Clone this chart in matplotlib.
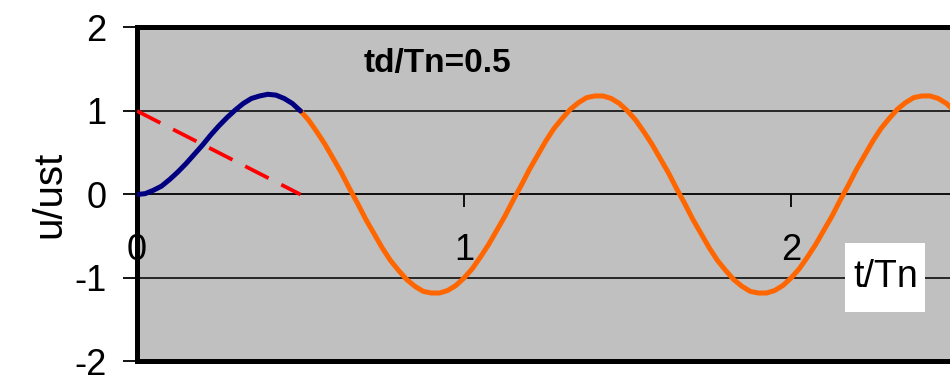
import matplotlib.pyplot as plt

# response during the pulse (t/Tn <= 0.5)
t_force = [0.0, 0.025, 0.05, 0.075, 0.10, 0.125, 0.15, 0.175, 0.20, 0.225,
           0.25, 0.275, 0.30, 0.325, 0.35, 0.375, 0.40, 0.425, 0.45, 0.475, 0.50]
u_force = [0.0, 0.01, 0.05, 0.10, 0.18, 0.27, 0.37, 0.48, 0.59, 0.71,
           0.82, 0.92, 1.01, 1.09, 1.15, 1.18, 1.20, 1.19, 1.15, 1.09, 1.00]

# free vibration after the pulse
t_free = [0.500, 0.525, 0.550, 0.575, 0.600, 0.625, 0.650, 0.675, 0.700, 0.725,
          0.750, 0.775, 0.800, 0.825, 0.850, 0.875, 0.900, 0.925, 0.950, 0.975,
          1.000, 1.025, 1.050, 1.075, 1.100, 1.125, 1.150, 1.175, 1.200, 1.225,
          1.250, 1.275, 1.300, 1.325, 1.350, 1.375, 1.400, 1.425, 1.450, 1.475,
          1.500, 1.525, 1.550, 1.575, 1.600, 1.625, 1.650, 1.675, 1.700, 1.725,
          1.750, 1.775, 1.800, 1.825, 1.850, 1.875, 1.900, 1.925, 1.950, 1.975,
          2.000, 2.025, 2.050, 2.075, 2.100, 2.125, 2.150, 2.175, 2.200, 2.225,
          2.250, 2.275, 2.300, 2.325, 2.350, 2.375, 2.400, 2.425, 2.450, 2.475,
          2.500]
u_free = [1.00, 0.89, 0.75, 0.60, 0.43, 0.26, 0.07, -0.11, -0.30, -0.47,
          -0.64, -0.79, -0.91, -1.02, -1.10, -1.16, -1.18, -1.18, -1.15, -1.09,
          -1.00, -0.89, -0.75, -0.60, -0.43, -0.26, -0.07, 0.11, 0.30, 0.47,
          0.64, 0.79, 0.91, 1.02, 1.10, 1.16, 1.18, 1.18, 1.15, 1.09,
          1.00, 0.89, 0.75, 0.60, 0.43, 0.26, 0.07, -0.11, -0.30, -0.47,
          -0.64, -0.79, -0.91, -1.02, -1.10, -1.16, -1.18, -1.18, -1.15, -1.09,
          -1.00, -0.89, -0.75, -0.60, -0.43, -0.26, -0.07, 0.11, 0.30, 0.47,
          0.64, 0.79, 0.91, 1.02, 1.10, 1.16, 1.18, 1.18, 1.15, 1.09,
          1.00]

# triangular load p/po
t_load = [0.0, 0.5]
p_load = [1.0, 0.0]

x_ticks = [0, 1, 2]
y_ticks = [-2, -1, 0, 1, 2]

plt.rcParams['font.family'] = 'Liberation Sans'
plt.rcParams['axes.unicode_minus'] = False

fig = plt.figure(figsize=(9.5, 3.76), dpi=100)
ax = fig.add_axes([0.1442, 0.0386, 0.8558, 0.8883])
ax.set_facecolor('#c0c0c0')

for y in [1, -1]:
    ax.axhline(y, color='#1a1a1a', lw=1.3, zorder=1)

ax.plot(t_load, p_load, color='#ff0000', lw=2.7, dashes=(7, 3.8), zorder=3)
ax.plot(t_free, u_free, color='#ff6600', lw=3.6, zorder=4, solid_capstyle='round')
ax.plot(t_force, u_force, color='#000080', lw=3.6, zorder=5, solid_capstyle='round')

ax.set_xlim(0, 2.486)
ax.set_ylim(-2, 2)

ax.spines['right'].set_visible(False)
ax.spines['left'].set_linewidth(3.6)
ax.spines['top'].set_linewidth(3.6)
ax.spines['bottom'].set_position(('data', 0))
ax.spines['bottom'].set_linewidth(1.3)
ax.axhline(-2, color='black', lw=3.6, clip_on=False, zorder=6)

ax.set_xticks(x_ticks)
ax.set_yticks(y_ticks)
ax.tick_params(axis='x', direction='out', length=9, width=1.3, pad=19, labelsize=26)
ax.tick_params(axis='y', direction='out', length=10, width=1.3, pad=12, labelsize=26)

ax.set_ylabel('u/ust', fontsize=29, labelpad=4)

ax.text(0.92, 1.57, 'td/Tn=0.5', fontsize=24, fontweight='bold',
        ha='center', va='center')

box = plt.Rectangle((845 / 950, 64 / 376), 80 / 950, 69 / 376,
                    transform=fig.transFigure, facecolor='white',
                    edgecolor='none', zorder=7)
fig.patches.append(box)
fig.text(886 / 950, 99 / 376, 't/Tn', fontsize=27, ha='center', va='center', zorder=8)

fig.savefig('out.png', dpi=100)
